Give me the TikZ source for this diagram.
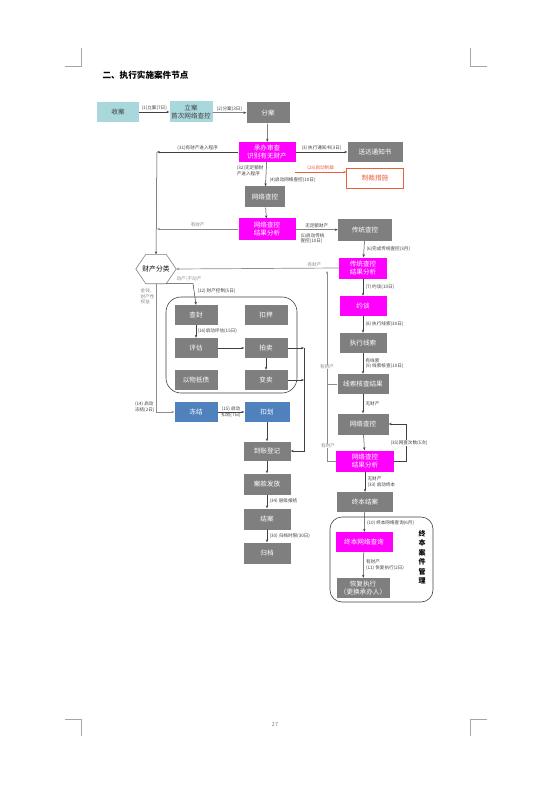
\documentclass[tikz,border=0pt]{standalone}
\usepackage{fontspec}
\setmainfont{Noto Sans CJK SC}
\usetikzlibrary{arrows.meta,calc}
\definecolor{gbox}{HTML}{7F7F7F}
\definecolor{mbox}{HTML}{FF00FF}
\definecolor{lbox}{HTML}{A9D8DC}
\definecolor{bbox}{HTML}{4F81BD}
\definecolor{rcol}{HTML}{E8603C}
\definecolor{lcol}{HTML}{404040}
\definecolor{gline}{HTML}{8C8C8C}
\tikzset{
  nbox/.style={fill=gbox, text=white, minimum width=44pt, minimum height=20pt, inner sep=1pt, align=center, font=\fontsize{6.6}{8}\selectfont},
  mgbox/.style={nbox, fill=mbox},
  ltbox/.style={nbox, fill=lbox, text=lcol},
  blbox/.style={nbox, fill=bbox},
  rdbox/.style={nbox, fill=white, draw=rcol, text=rcol, line width=0.6pt},
  lbl/.style={font=\fontsize{4.6}{5.6}\selectfont, inner sep=0.3pt, text=lcol, align=left},
  glbl/.style={lbl, text=gline},
  arr/.style={draw=lcol, line width=0.5pt, -{Stealth[length=3pt,width=2.4pt]}},
  garr/.style={draw=gline, line width=0.7pt, -{Stealth[length=3pt,width=2.4pt]}},
  gln/.style={draw=gline, line width=0.7pt},
  ln/.style={draw=lcol, line width=0.5pt},
  crop/.style={draw=gray!70, line width=0.5pt}
}
\begin{document}
\begin{tikzpicture}[x=1pt,y=-1pt]
\useasboundingbox (0,0) rectangle (555,786);
% crop marks
\draw[crop] (65,66) -- (81,66) -- (81,48);
\draw[crop] (487,66) -- (470,66) -- (470,48);
\draw[crop] (65,719) -- (81,719) -- (81,736);
\draw[crop] (487,719) -- (470,719) -- (470,736);
\node[font=\fontsize{5.5}{6}\selectfont, text=gray] (pg) at (275,724) {27};
% title
\node[anchor=west, font=\fontsize{8.6}{10}\bfseries] (title) at (99,75) {二、执行实施案件节点};

% main column
\node[ltbox, minimum width=42pt] (shou) at (118,112) {收案};
\node[ltbox, minimum width=43pt, minimum height=21pt] (li) at (191,112) {立案\\首次网络查控};
\node[nbox, minimum width=43pt, minimum height=21pt] (fen) at (268,113) {分案};
\node[mgbox, minimum width=57pt, minimum height=20pt] (cb) at (267,152) {承办审查\\识别有无财产};
\node[nbox, minimum width=55pt] (sd) at (375,152) {送达通知书};
\node[rdbox, minimum width=57pt, minimum height=20pt] (zc) at (375,178) {制裁措施};
\node[nbox, minimum width=40pt, minimum height=21pt] (wl1) at (265,197) {网络查控};
\node[mgbox, minimum width=57pt, minimum height=21pt] (wf1) at (267,229) {网络查控\\结果分析};
\node[nbox, minimum width=54pt, minimum height=22pt] (ct) at (365,230) {传统查控};
\node[mgbox, minimum width=48pt, minimum height=21pt] (cf) at (363,268) {传统查控\\结果分析};
\node[mgbox, minimum width=47pt] (yt) at (363,306) {约谈};
\node[nbox, minimum width=47pt] (zx) at (363,343) {执行线索};
\node[nbox, minimum width=51pt] (xh) at (363,384) {线索核查结果};
\node[nbox, minimum width=51pt, minimum height=21pt] (wl2) at (363,424) {网络查控};
\node[mgbox, minimum width=58pt, minimum height=21pt] (wf2) at (365,461) {网络查控\\结果分析};
\node[nbox, minimum width=56pt] (zb) at (365,502) {终本结案};
\node[mgbox, minimum width=57pt] (zw) at (364,542) {终本网络查询};
\node[nbox, minimum width=53pt] (hf) at (363,588) {恢复执行\\（更换承办人）};

% hexagon
\node[minimum width=40pt, minimum height=29pt, inner sep=0pt, font=\fontsize{6.8}{8}\selectfont] (hex) at (156,269) {财产分类};
\draw[draw=gray, line width=0.6pt] (hex.west) -- ($(hex.north west)+(10,0)$) -- ($(hex.north east)+(-10,0)$) -- (hex.east) -- ($(hex.south east)+(-10,0)$) coordinate (hexbr) -- ($(hex.south west)+(10,0)$) -- cycle;

% property control box
\draw[ln, line width=0.6pt, rounded corners=15pt] (166,297) rectangle (297,393);
\node[nbox, minimum width=43pt] (cfe) at (196,315) {查封};
\node[nbox, minimum width=43pt] (ky) at (266,315) {扣押};
\node[nbox, minimum width=43pt] (pgu) at (196,348) {评估};
\node[nbox, minimum width=43pt] (pm) at (266,348) {拍卖};
\node[nbox, minimum width=43pt] (yw) at (196,380) {以物抵债};
\node[nbox, minimum width=43pt] (bm) at (266,380) {变卖};
\node[blbox, minimum width=43pt] (dj) at (196,412) {冻结};
\node[blbox, minimum width=45pt] (kh) at (267,412) {扣划};
\node[nbox, minimum width=47pt, minimum height=19pt] (dz) at (267,451) {到账登记};
\node[nbox, minimum width=47pt, minimum height=21pt] (ak) at (267,484) {案款发放};
\node[nbox, minimum width=47pt, minimum height=21pt] (ja) at (267,519) {结案};
\node[nbox, minimum width=47pt, minimum height=21pt] (gd) at (267,553) {归档};

% final management box
\draw[ln, line width=0.6pt, rounded corners=12pt] (330,517) rectangle (433,602);
\node[font=\fontsize{7}{9.5}\bfseries, align=center, inner sep=0pt] (zbgl) at (422,557) {终\\本\\案\\件\\管\\理};

% coordinates
\coordinate (c31) at (157,152);
\coordinate (cwl) at (157,229);
\coordinate (r28) at (295,172);
\coordinate (cr1) at (304,348);
\coordinate (cr2) at (304,380);
\coordinate (cr3) at (304,451);
\coordinate (cl1) at (327,461);
\coordinate (cl2) at (327,384);
\coordinate (cl3) at (327,271);
\coordinate (cp1) at (406,461);
\coordinate (cp2) at (406,424);
\coordinate (ch1) at (193,283.5);
\coordinate (ch2) at (156,412);

% edges, top
\draw[arr] (shou) -- (li) node[lbl, midway, above=1pt] {(1)立案(7日)};
\draw[arr] (li) -- (fen) node[lbl, midway, above=1pt] {(2)分案(3日)};
\draw[arr] (fen) -- (cb);
\draw[arr] (cb) -- (sd) node[lbl, midway, above=1pt] {(3) 执行通知书(3日)};
\draw[arr] (cb.west) -- (c31) node[lbl, midway, above=1pt] {(31)有财产进入程序};
\draw[arr] (c31) -- (hex.north);
\draw[arr] (cb) -- (wl1);
\node[lbl, anchor=east] (l32) at (264,171) {(32)无足额财\\产进入程序};
\node[lbl, anchor=west] (l4) at (269,180) {(4)启动网络查控(10日)};
\draw[draw=rcol, line width=0.5pt, -{Stealth[length=3pt,width=2.4pt]}] (r28) -- (zc.west |- r28) node[lbl, text=rcol, midway, above=1pt] {(28)启动制裁};
\draw[arr] (wl1) -- (wf1);
\draw[arr] (wf1) -- (ct) node[lbl, midway, above=1pt] {无足额财产};
\node[lbl, anchor=north west] (l5) at (300,233) {(5)启动传统\\查控(10日)};
\draw[garr] (wf1.west) -- (cwl) node[glbl, midway, above=1pt] {有财产};
\draw[arr] (ct) -- (cf) node[lbl, midway, right=2pt] {(6)完成传统查控(3月)};
\draw[garr] (cf.west) -- (hex.east) node[glbl, pos=0.15, above=1pt] {有财产};
\draw[arr] (cf) -- (yt) node[lbl, midway, right=2pt] {(7) 约谈(10日)};
\draw[arr] (yt) -- (zx) node[lbl, midway, right=2pt] {(8) 执行线索(30日)};
\draw[arr] (zx) -- (xh) node[lbl, midway, right=2pt] {有线索\\(9) 线索核查(10日)};
\draw[arr] (xh) -- (wl2) node[lbl, midway, right=2pt] {无财产};
\draw[arr] (wl2) -- (wf2);
\draw[arr] (wf2.east) -- (cp1) -- (cp2) -- (wl2.east);
\node[lbl, fill=white] (l35) at (409,443) {(35)网查次数(5次)};
\draw[gln] (wf2.west) -- (cl1) -- (cl2);
\draw[garr] (cl2) -- (cl3);
\draw[gln] (xh.west) -- (cl2);
\node[glbl, fill=white] (ly1) at (327,367) {有财产};
\node[glbl, fill=white] (ly2) at (328,446) {有财产};
\draw[arr] (wf2) -- (zb) node[lbl, midway, right=2pt] {无财产\\(33) 启动终本};
\draw[arr] (zb) -- (zw) node[lbl, pos=0.55, right=2pt] {(10) 终本网络查询(6月)};
\draw[arr] (zw) -- (hf) node[lbl, midway, right=2pt] {有财产\\(11) 恢复执行(2日)};

% left branch
\draw[arr] (hexbr) -- (ch1) -- (cfe.north);
\node[glbl] (ldc) at (189,278.5) {动产\textbackslash 不动产};
\node[lbl, anchor=west] (l12) at (197,291) {(12) 财产控制(5日)};
\draw[garr] (hex.south) -- (ch2) -- (dj.west);
\node[glbl, anchor=north east] (ljq) at (155,288) {金钱、\\财产性\\权益};
\node[lbl, anchor=east] (l14) at (155,407) {(14) 启动\\冻结(2日)};
\draw[arr] (cfe) -- (pgu) node[lbl, midway, right=1pt] {(16)启动评估(15日)};
\draw[arr] (pgu) -- (pm);
\draw[arr] (pm) -- (bm);
\draw[arr] (pm.east) -- (cr1);
\draw[arr] (bm.east) -- (cr2);
\draw[arr] (cr1) -- (cr3) -- (dz.east);
\draw[arr] (dj) -- (kh) node[lbl, midway, align=center] {(15) 启动\\扣划(7日)};
\draw[arr] (kh) -- (dz);
\draw[arr] (dz) -- (ak);
\draw[arr] (ak) -- (ja) node[lbl, midway, right=2pt] {(34) 层级报结};
\draw[arr] (ja) -- (gd) node[lbl, midway, right=2pt] {(30) 归档时限(30日)};
\end{tikzpicture}
\end{document}
